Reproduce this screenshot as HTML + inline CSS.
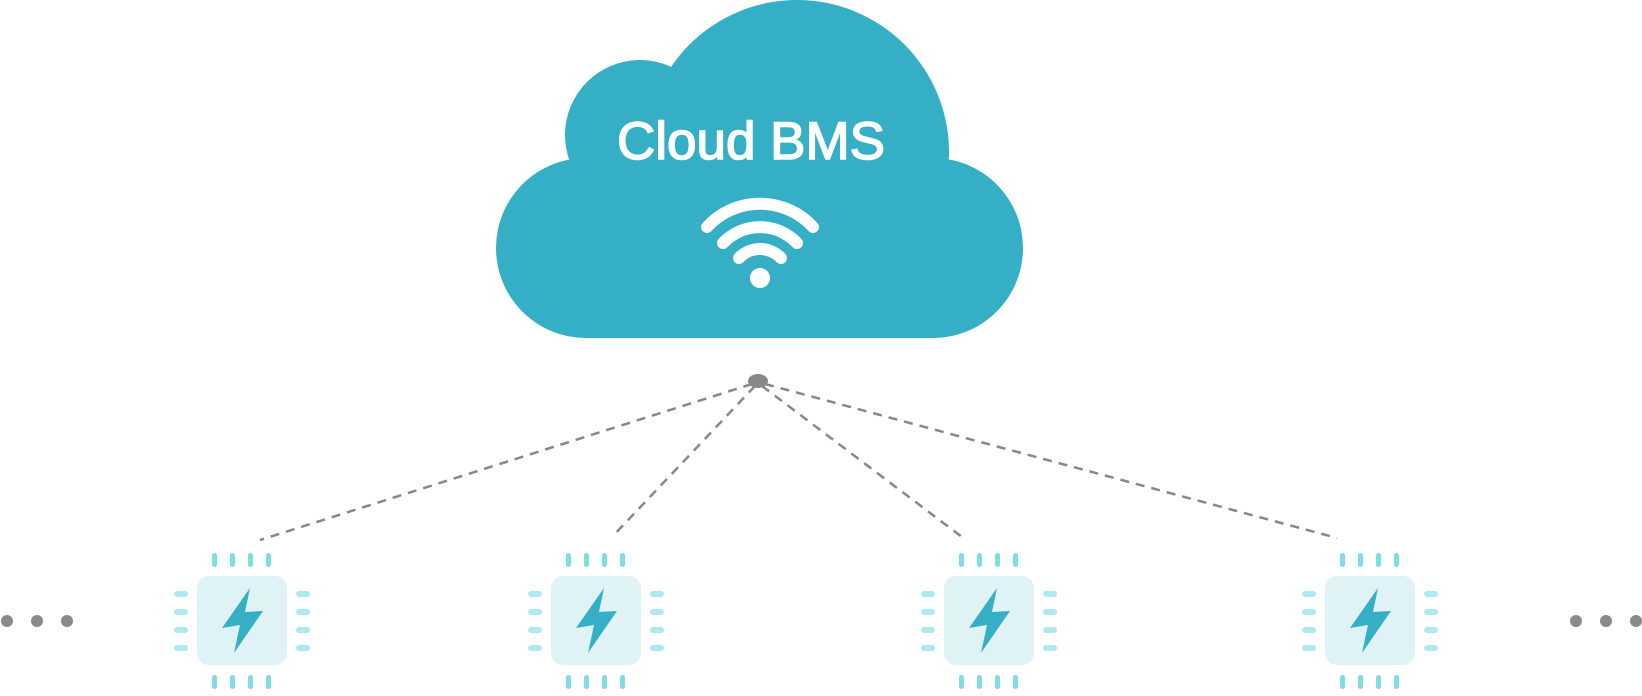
<!DOCTYPE html>
<html><head><meta charset="utf-8"><style>html,body{margin:0;padding:0;background:#fff}svg{display:block}</style></head>
<body>
<svg width="1642" height="696" viewBox="0 0 1642 696" xmlns="http://www.w3.org/2000/svg">
<defs>
<g id="chip">
  <rect x="0" y="0" width="90" height="89" rx="12" fill="#dff2f6"/>
  <g fill="#80dce7">
    <rect x="15" y="-23" width="5" height="14" rx="2.5"/><rect x="33" y="-23" width="5" height="14" rx="2.5"/>
    <rect x="51" y="-23" width="5" height="14" rx="2.5"/><rect x="69" y="-23" width="5" height="14" rx="2.5"/>
    <rect x="15" y="99" width="5" height="14" rx="2.5"/><rect x="33" y="99" width="5" height="14" rx="2.5"/>
    <rect x="51" y="99" width="5" height="14" rx="2.5"/><rect x="69" y="99" width="5" height="14" rx="2.5"/>
  </g>
  <g fill="#aee9f1">
    <rect x="-23" y="15" width="14" height="6" rx="3"/><rect x="-23" y="33" width="14" height="6" rx="3"/>
    <rect x="-23" y="51" width="14" height="6" rx="3"/><rect x="-23" y="69" width="14" height="6" rx="3"/>
    <rect x="99" y="15" width="14" height="6" rx="3"/><rect x="99" y="33" width="14" height="6" rx="3"/>
    <rect x="99" y="51" width="14" height="6" rx="3"/><rect x="99" y="69" width="14" height="6" rx="3"/>
  </g>
  <polygon points="53,12 25,52 43,49 37,77 66,35 48,36" fill="#35afc6"/>
</g>
</defs>
<g fill="#35afc6">
  <circle cx="797" cy="152" r="152"/>
  <circle cx="640" cy="135" r="75"/>
  <circle cx="586" cy="248" r="90"/>
  <circle cx="933" cy="248" r="90"/>
  <rect x="586" y="150" width="347" height="188"/>
</g>
<text x="751" y="159" text-anchor="middle" font-family="Liberation Sans, sans-serif" font-size="53" font-weight="normal" fill="#fff" stroke="#fff" stroke-width="1.6">Cloud BMS</text>
<g fill="none" stroke="#fff" stroke-width="12" stroke-linecap="round">
  <path d="M707,227 A72,72 0 0 1 813,227"/>
  <path d="M723,243 A51,51 0 0 1 797,243"/>
  <path d="M739,258 A29,29 0 0 1 781,258"/>
</g>
<circle cx="760" cy="278" r="10" fill="#fff"/>
<g stroke="#888" stroke-width="2.5" stroke-dasharray="9,7" fill="none">
  <line x1="752" y1="384" x2="260" y2="540"/>
  <line x1="755" y1="386" x2="612" y2="537"/>
  <line x1="762" y1="386" x2="962" y2="537"/>
  <line x1="765" y1="384" x2="1337" y2="538"/>
</g>
<ellipse cx="758" cy="381" rx="10" ry="7" fill="#888"/>
<use href="#chip" x="197" y="576"/>
<use href="#chip" x="551" y="576"/>
<use href="#chip" x="944" y="576"/>
<use href="#chip" x="1325" y="576"/>
<g fill="#8a8a8a">
  <circle cx="7" cy="621" r="6"/><circle cx="37" cy="621" r="6"/><circle cx="67" cy="621" r="6"/>
  <circle cx="1576" cy="621" r="6"/><circle cx="1606" cy="621" r="6"/><circle cx="1636" cy="621" r="6"/>
</g>
</svg>
</body></html>
